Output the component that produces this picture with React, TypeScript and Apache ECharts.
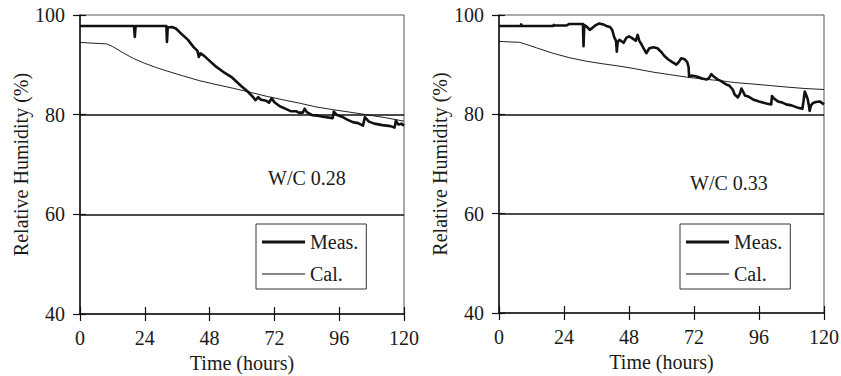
import React, { useEffect, useRef } from "react";
import * as echarts from "echarts";

const xTicks = [0, 24, 48, 72, 96, 120];
const yTicks = [40, 60, 80, 100];
const legendNames = ["Meas.", "Cal."];
const panelLabels = ["W/C 0.28", "W/C 0.33"];
const refLines = [80, 60];

// Left panel (W/C 0.28) — [time (h), RH (%)]
const measLeft: number[][] = [
  [0, 97.8], [20, 97.8], [20.3, 95.6], [20.6, 97.8], [32, 97.8], [32.2, 94.6], [32.5, 97.5],
  [34, 97.6], [35.5, 97.3], [37, 96.5], [40, 95], [42, 93.6], [43.5, 92.8], [44, 91.6],
  [44.6, 92.3], [46, 91.8], [48, 90.8], [50, 89.8], [53, 88.6], [56, 87.6], [58, 86.6],
  [60, 85.6], [62, 84.7], [64, 83.6], [65, 82.9], [66, 83.5], [67, 83], [69, 82.8],
  [70, 82.4], [71, 83.3], [72, 82.5], [74, 81.7], [76, 81.2], [78, 80.7], [80, 80.7],
  [81, 80.4], [82.5, 80.4], [83.2, 81.2], [84, 80.5], [86, 79.9], [88, 79.8], [90, 79.6],
  [93.6, 79.3], [94, 80.6], [95, 80], [97, 79.6], [99, 79], [101, 78.5], [103, 78.3],
  [104.8, 77.8], [105.5, 79.5], [106, 79.2], [107, 78.6], [109, 78.2], [112, 77.9],
  [115, 77.7], [116.5, 77.4], [117, 78.8], [117.4, 78.4], [118, 78], [119, 78.2], [120, 77.8],
];
const calLeft: number[][] = [
  [0, 94.5], [3, 94.4], [9.9, 94.2], [12, 93.7], [16, 92.4], [19.7, 91.3], [24, 90.3],
  [28, 89.5], [32, 88.8], [38, 87.8], [44.4, 86.8], [50, 86.1], [56.7, 85.3], [63, 84.5],
  [69, 83.7], [75, 83], [81.4, 82.3], [87, 81.6], [93.7, 81], [100, 80.5], [106, 80],
  [113, 79.4], [120, 78.7],
];

// Right panel (W/C 0.33)
const measRight: number[][] = [
  [0, 97.8], [8, 97.8], [8.2, 98.1], [8.4, 97.8], [20, 97.8], [20.2, 98], [20.4, 97.9],
  [25, 97.9], [26, 98.2], [31, 98.2], [31.2, 93.7], [31.5, 98], [32.5, 97.6], [33.5, 97],
  [34.5, 97.4], [35.3, 97.8], [37, 98.3], [38.5, 98.1], [39.6, 97.8], [41, 97.6], [41.8, 97],
  [42.5, 95.6], [43.2, 94.8], [43.5, 92.6], [43.8, 94.5], [44.5, 95], [46, 94.4], [47, 95.4],
  [48, 95.7], [49, 95.4], [50.5, 94.8], [51.2, 96], [51.8, 94.8], [52.6, 94.1], [53.5, 93.2],
  [54.4, 92.3], [55.5, 93.3], [57, 93.5], [58.5, 93.3], [60, 92.5], [61, 91.8], [62.4, 91.1],
  [64, 90.5], [65.5, 90], [66.5, 90.6], [67.3, 91.3], [68.5, 91.1], [69.5, 90.5], [70, 89.5],
  [70.2, 87.6], [71, 87.8], [73, 87.6], [75, 87.2], [76.6, 87], [77.5, 87.3], [78.4, 88.1],
  [79.3, 87.6], [80.5, 87.1], [82, 86.7], [83.9, 86], [85, 85.8], [86.3, 85], [87, 84],
  [88.2, 83.4], [89, 84.2], [89.5, 85.2], [90.2, 84.5], [90.8, 83.8], [92, 83.6], [93.8, 83],
  [96, 82.6], [98.7, 82.2], [100.5, 82], [100.8, 83.7], [101.5, 83.2], [103, 82.6],
  [104.5, 82.4], [106, 82], [108, 81.8], [110, 81.4], [112, 81.1], [112.4, 82.5],
  [112.9, 84.6], [113.5, 83.8], [114, 83], [114.5, 81.5], [114.7, 80.7], [115.2, 81.8],
  [116, 82.3], [117, 82.5], [118.4, 82.6], [119.2, 82.3], [120, 82],
];
const calRight: number[][] = [
  [0, 94.7], [3, 94.6], [7.6, 94.5], [10, 94.1], [13.8, 93.4], [19.9, 92.3], [26, 91.4],
  [32.2, 90.7], [38, 90.2], [44.6, 89.7], [50, 89.2], [56.9, 88.5], [63, 88], [69.2, 87.5],
  [75, 87.1], [81.5, 86.8], [87, 86.4], [93.8, 86.1], [100, 85.8], [106, 85.5], [113, 85.2],
  [120, 85],
];

const FONT = "Liberation Serif";
const TXT = "#1a1a1a";

export default function App() {
  const ref = useRef<HTMLDivElement>(null);
  useEffect(() => {
    if (!ref.current) return;
    const chart = echarts.init(ref.current, undefined, { renderer: "svg" });
    const grids = [
      { left: 80, top: 15, width: 324, height: 299 },
      { left: 499, top: 15, width: 325, height: 298 },
    ];
    const xMin = xTicks[0], xMax = xTicks[xTicks.length - 1];
    const yMin = yTicks[0], yMax = yTicks[yTicks.length - 1];
    const xInt = xTicks[1] - xTicks[0];
    const yInt = yTicks[1] - yTicks[0];
    const txt = { fontFamily: FONT, fontSize: 20, color: TXT };
    const xAxis: any[] = [];
    const yAxis: any[] = [];
    [0, 1].forEach((g) => {
      xAxis.push({
        type: "value", gridIndex: g, min: xMin, max: xMax, interval: xInt,
        position: "bottom",
        name: "Time (hours)", nameLocation: "middle", nameGap: 32,
        nameTextStyle: { ...txt },
        axisLine: { show: true, lineStyle: { color: "#111", width: 1.5 } },
        axisTick: { show: true, inside: true, length: 7, lineStyle: { color: "#111", width: 1.2 } },
        axisLabel: { ...txt, margin: 14 },
        splitLine: { show: false },
      });
      xAxis.push({
        type: "value", gridIndex: g, min: xMin, max: xMax, interval: xInt,
        position: "bottom",
        axisLine: { show: false },
        axisTick: { show: true, inside: false, length: 7, lineStyle: { color: "#111", width: 1.2 } },
        axisLabel: { show: false },
        splitLine: { show: false },
      });
      yAxis.push({
        type: "value", gridIndex: g, min: yMin, max: yMax, interval: yInt,
        position: "left",
        name: "Relative Humidity (%)", nameLocation: "middle", nameGap: 46,
        nameTextStyle: { ...txt },
        axisLine: { show: true, lineStyle: { color: "#111", width: 1.5 } },
        axisTick: { show: true, inside: false, length: 7, lineStyle: { color: "#111", width: 1.2 } },
        axisLabel: { ...txt, margin: 15 },
        splitLine: { show: false },
      });
      yAxis.push({
        type: "value", gridIndex: g, min: yMin, max: yMax, interval: yInt,
        position: "left", offset: 0,
        axisLine: { show: false },
        axisTick: { show: true, inside: true, length: 6, lineStyle: { color: "#111", width: 1.2 } },
        axisLabel: { show: false },
        splitLine: { show: false },
      });
    });

    const mkSeries = (g: number, meas: number[][], cal: number[][]) => [
      {
        type: "line", name: legendNames[1], xAxisIndex: g * 2, yAxisIndex: g * 2,
        data: cal, symbol: "none", showSymbol: false, smooth: false,
        lineStyle: { color: "#222", width: 1 }, itemStyle: { color: "#222" },
        markLine: {
          silent: true, symbol: "none", label: { show: false },
          lineStyle: { color: "#111", width: 1.6, type: "solid" },
          data: refLines.map((v) => ({ yAxis: v })),
        },
        z: 3,
      },
      {
        type: "line", name: legendNames[0], xAxisIndex: g * 2, yAxisIndex: g * 2,
        data: meas, symbol: "none", showSymbol: false, smooth: false,
        lineStyle: { color: "#111", width: 2.6, join: "round" }, itemStyle: { color: "#111" },
        z: 4,
      },
    ];

    const legendBase = {
      orient: "vertical",
      top: 224,
      data: [
        { name: legendNames[0], icon: "path://M0,0H43V3.2H0Z" },
        { name: legendNames[1], icon: "path://M0,0H43V1H0Z" },
      ],
      borderColor: "#333",
      borderWidth: 1,
      borderRadius: 0,
      padding: [8, 8, 5, 6],
      itemGap: 12,
      itemWidth: 43,
      itemHeight: 14,
      selectedMode: false,
      itemStyle: { color: "#111", borderWidth: 0 },
      textStyle: { ...txt },
    };

    chart.setOption({
      animation: false,
      backgroundColor: "#fff",
      textStyle: { fontFamily: FONT },
      grid: grids.map((g) => ({
        ...g, show: true, borderColor: "#555", borderWidth: 1, backgroundColor: "transparent",
        containLabel: false, outerBoundsMode: "none",
      })),
      xAxis,
      yAxis,
      legend: [
        { ...legendBase, left: 256 },
        { ...legendBase, left: 680 },
      ],
      series: [...mkSeries(0, measLeft, calLeft), ...mkSeries(1, measRight, calRight)],
      graphic: [
        { type: "text", left: 268, top: 168, style: { text: panelLabels[0], fontFamily: FONT, fontSize: 20, fill: TXT } },
        { type: "text", left: 690, top: 173, style: { text: panelLabels[1], fontFamily: FONT, fontSize: 20, fill: TXT } },
      ],
    });
    return () => chart.dispose();
  }, []);
  return (
    <div
      ref={ref}
      style={{ position: "fixed", left: 0, top: 0, width: 841, height: 376, background: "#fff" }}
    />
  );
}
